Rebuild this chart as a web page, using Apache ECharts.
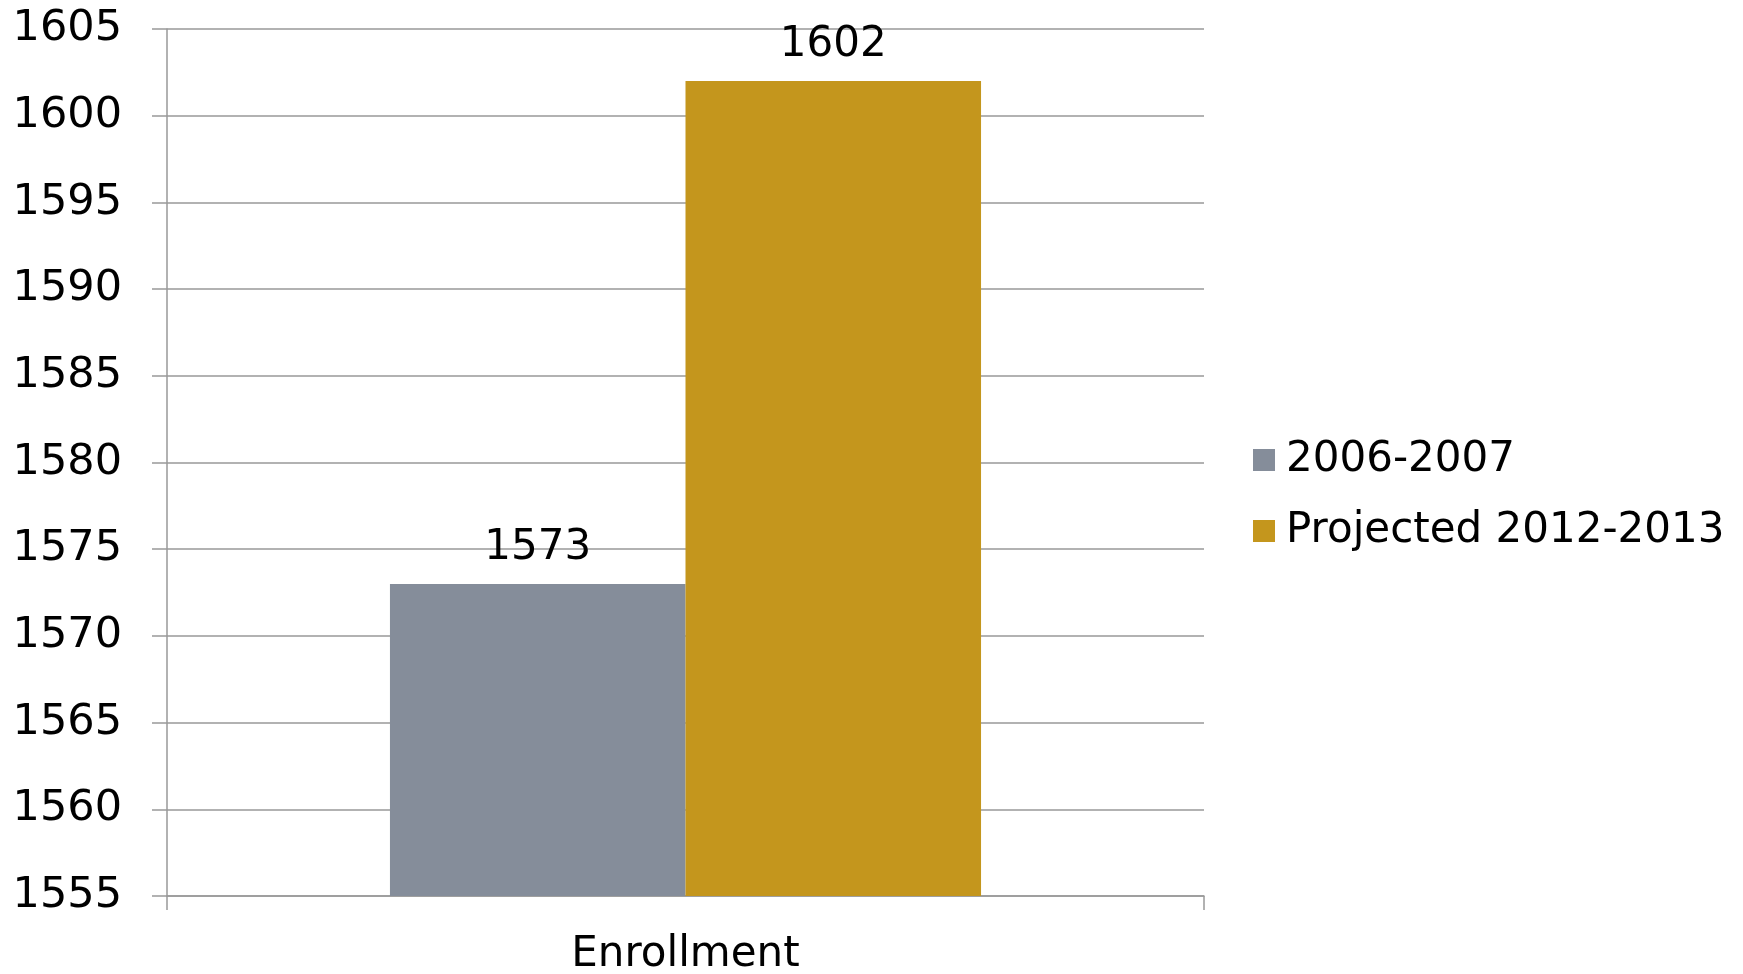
<!DOCTYPE html>
<html>
<head>
<meta charset="utf-8">
<script src="https://cdn.jsdelivr.net/npm/echarts@6/dist/echarts.min.js"></script>
<style>html,body{margin:0;padding:0;background:#fff}#c{width:1743px;height:974px}</style>
</head>
<body>
<div id="c"></div>
<script>
const categories = ['Enrollment'];
const seriesNames = ['2006-2007', 'Projected 2012-2013'];
const values2006 = [1573];
const valuesProjected = [1602];
const yMin = 1555, yMax = 1605, yStep = 5;

const FONT = 'DejaVu Sans';
const chart = echarts.init(document.getElementById('c'), null, {renderer: 'canvas'});
const labelStyle = {show: true, position: 'top', distance: 14, fontSize: 42, lineHeight: 44, color: '#000', fontFamily: FONT};
chart.setOption({
  animation: false,
  backgroundColor: '#fff',
  grid: {left: 167, right: 539, top: 29, bottom: 78, containLabel: false, outerBoundsMode: 'none'},
  legend: {
    orient: 'vertical', left: 1248, top: 433,
    itemWidth: 22, itemHeight: 22, itemGap: 27,
    icon: 'rect',
    textStyle: {fontSize: 42, lineHeight: 44, color: '#000', fontFamily: FONT, padding: [0, 0, 0, 6]},
    data: seriesNames
  },
  xAxis: {
    type: 'category', data: categories,
    axisLine: {lineStyle: {color: '#999', width: 1.5}},
    axisTick: {show: true, length: 14, lineStyle: {color: '#999', width: 1.5}},
    axisLabel: {fontSize: 42, color: '#000', fontFamily: FONT, margin: 38}
  },
  yAxis: {
    type: 'value', min: yMin, max: yMax, interval: yStep,
    axisLine: {show: true, lineStyle: {color: '#999', width: 1.5}},
    axisTick: {show: true, length: 15, inside: false, lineStyle: {color: '#999', width: 1.5}},
    splitLine: {lineStyle: {color: '#999', width: 1.5}},
    axisLabel: {fontSize: 43, color: '#000', fontFamily: FONT, margin: 45, formatter: v => String(v)}
  },
  series: [
    {name: seriesNames[0], type: 'bar', data: values2006, barCategoryGap: '43%', barGap: '0%',
     itemStyle: {color: '#858D9A'}, label: labelStyle},
    {name: seriesNames[1], type: 'bar', data: valuesProjected, barCategoryGap: '43%', barGap: '0%',
     itemStyle: {color: '#C4961D'}, label: labelStyle}
  ]
});
</script>
</body>
</html>
